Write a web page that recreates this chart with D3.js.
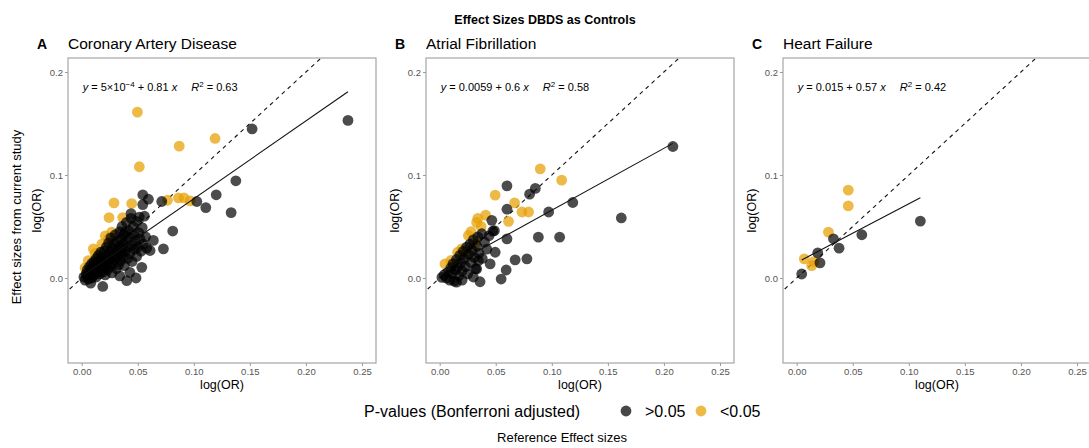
<!doctype html>
<html>
<head>
<meta charset="UTF-8">
<title>Effect Sizes DBDS as Controls</title>
<script src="https://cdn.jsdelivr.net/npm/d3@7"></script>
<style>
  body { margin: 0; background: #fff; }
  text { font-family: "Liberation Sans", Arial, sans-serif; }
</style>
</head>
<body>
<svg id="chart" width="1089" height="448"></svg>
<script>
// panel titles
const panelLetters = ["A", "B", "C"];
const panelTitles = ["Coronary Artery Disease", "Atrial Fibrillation", "Heart Failure"];

// [reference logOR, current logOR], adjusted p > 0.05
const cadNS = [
  [0.002,0.001],[0.003,-0.002],[0.004,0.004],[0.005,0.002],[0.005,0.008],[0.006,-0.001],[0.007,0.005],[0.007,0.011],
  [0.008,0.003],[0.008,0.008],[0.009,0.000],[0.009,0.014],[0.010,0.006],[0.010,0.010],[0.011,0.003],[0.011,0.016],
  [0.012,0.008],[0.012,0.012],[0.013,0.001],[0.013,0.019],[0.014,0.006],[0.014,0.010],[0.015,0.014],[0.015,0.022],
  [0.016,0.004],[0.016,0.017],[0.017,0.009],[0.017,0.025],[0.018,0.012],[0.018,0.020],[0.019,0.006],[0.019,0.016],
  [0.020,0.010],[0.020,0.026],[0.021,0.018],[0.021,0.003],[0.022,0.013],[0.022,0.030],[0.023,0.021],[0.023,0.008],
  [0.024,0.016],[0.024,0.034],[0.025,0.025],[0.025,0.011],[0.026,0.019],[0.026,0.039],[0.027,0.029],[0.027,0.005],
  [0.028,0.014],[0.028,0.023],[0.029,0.033],[0.030,0.018],[0.030,0.042],[0.031,0.027],[0.031,0.009],[0.032,0.021],
  [0.032,0.036],[0.033,0.030],[0.033,0.013],[0.034,0.045],[0.034,0.024],[0.035,0.017],[0.035,0.038],[0.036,0.028],
  [0.036,0.050],[0.037,0.021],[0.037,0.033],[0.038,0.012],[0.038,0.042],[0.039,0.026],[0.040,0.036],[0.040,0.054],
  [0.041,0.019],[0.041,0.030],[0.042,0.046],[0.043,0.024],[0.043,0.039],[0.044,0.058],[0.045,0.032],[0.045,0.016],
  [0.046,0.050],[0.047,0.028],[0.047,0.042],[0.048,0.036],[0.049,0.021],[0.049,0.055],[0.050,0.030],[0.051,0.044],
  [0.052,0.038],[0.053,0.026],[0.054,0.049],[0.055,0.033],[0.056,0.060],[0.057,0.040],[0.058,0.029],
  [0.008,-0.005],[0.0188,-0.0082],[0.034,0.002],[0.043,0.0055],[0.0402,-0.0026],[0.0485,0.000],[0.0536,0.0104],
  [0.061,0.0267],[0.0729,0.0283],[0.0639,0.0365],[0.0812,0.0456],[0.0387,0.0446],[0.0514,0.0592],[0.044,0.0626],
  [0.0545,0.0713],[0.0545,0.0808],[0.0595,0.0765],[0.0714,0.0743],[0.1027,0.0743],[0.1107,0.0684],[0.120,0.0808],
  [0.1333,0.0635],[0.1375,0.0944],[0.152,0.1447],[0.2375,0.153]
];
// adjusted p < 0.05
const cadSig = [
  [0.0497,0.161],[0.087,0.128],[0.119,0.1355],[0.0514,0.108],[0.0765,0.0755],[0.0863,0.0778],[0.0913,0.0778],
  [0.0967,0.0749],[0.0288,0.0729],[0.0446,0.0723],[0.0244,0.0587],[0.0366,0.0587],[0.0268,0.0446],[0.0238,0.0381],
  [0.0104,0.0283],[0.0059,0.0169],[0.012,0.024],[0.018,0.033],[0.003,0.010],[0.021,0.041]
];

const afNS = [
  [0.208,0.1277],[0.060,0.0895],[0.0853,0.087],[0.0802,0.0814],[0.060,0.0668],[0.1187,0.0733],[0.0972,0.0641],
  [0.162,0.0583],[0.0465,0.056],[0.0474,0.0455],[0.0376,0.043],[0.088,0.0397],[0.107,0.0397],[0.060,0.038],
  [0.0488,0.046],[0.0673,0.0176],[0.0778,0.0186],[0.0593,0.0078],[0.0548,-0.001],[0.036,-0.0036],[0.033,0.0088],
  [0.045,0.0137],[0.0495,0.025],[0.0345,0.0169],[0.015,-0.004],[0.002,0.0006],
  [0.004,0.003],[0.006,0.000],[0.008,0.006],[0.009,-0.002],[0.010,0.010],[0.011,0.004],[0.012,0.014],[0.013,-0.003],
  [0.014,0.008],[0.015,0.018],[0.016,0.011],[0.017,0.002],[0.018,0.022],[0.019,0.015],[0.020,0.007],[0.021,0.026],
  [0.022,0.019],[0.023,0.011],[0.024,0.030],[0.025,0.004],[0.026,0.023],[0.027,0.033],[0.028,0.015],[0.029,0.027],
  [0.030,0.037],[0.031,0.020],[0.032,0.009],[0.033,0.031],[0.034,0.040],[0.035,0.024],[0.040,0.035],[0.042,0.028],
  [0.038,0.019],[0.044,0.041],[0.030,0.001],[0.020,-0.002]
];
const afSig = [
  [0.0897,0.106],[0.1088,0.095],[0.0495,0.0805],[0.0668,0.0729],[0.0734,0.0641],[0.0793,0.0641],[0.0614,0.055],
  [0.033,0.054],[0.041,0.061],[0.034,0.058],[0.0256,0.0413],[0.0197,0.0283],[0.0256,0.0235],[0.0316,0.0332],
  [0.0047,0.0137],[0.010,0.017],[0.016,0.025],[0.028,0.045],[0.037,0.050]
];

const hfNS = [
  [0.1103,0.0553],[0.0328,0.0381],[0.0581,0.042],[0.0378,0.029],[0.0188,0.0244],[0.0208,0.0147],[0.0045,0.0039]
];
const hfSig = [
  [0.046,0.0853],[0.046,0.070],[0.0283,0.0446],[0.0068,0.0186],[0.0134,0.012],[0.0155,0.016]
];

// fitted line: [intercept, slope, x from, x to]
const cadFit = [0.0015, 0.755, 0.002, 0.2375];
const afFit = [0.0059, 0.6, 0.002, 0.208];
const hfFit = [0.015, 0.57, 0.0045, 0.1103];

// equation labels: [intercept text, slope text, R2 text]
const eqIntercepts = [["5", "\u00d7", "10", "\u22124"], "0.0059", "0.015"];
const eqSlopes = ["0.81", "0.6", "0.57"];
const eqR2 = ["0.63", "0.58", "0.42"];

const xTicks = [0, 0.05, 0.10, 0.15, 0.20, 0.25];
const yTicks = [0, 0.1, 0.2];

const legendLabels = [">0.05", "<0.05"];
const pointColors = ["#000000", "#E69F00"];

const svg = d3.select("#chart");
const panelLefts = [68, 426, 783];
const panelW = 308, plotTop = 58, plotBottom = 363;
const ptR = 5.4;

const panels = [
  {ns: cadNS, sig: cadSig, fit: cadFit},
  {ns: afNS, sig: afSig, fit: afFit},
  {ns: hfNS, sig: hfSig, fit: hfFit}
];

svg.append("text")
  .attr("x", 545).attr("y", 24)
  .attr("text-anchor", "middle")
  .style("font-weight", "bold").style("font-size", "12.5px")
  .text("Effect Sizes DBDS as Controls");

svg.append("text")
  .attr("transform", "translate(21,217) rotate(-90)")
  .attr("text-anchor", "middle")
  .style("font-size", "13px")
  .text("Effect sizes from current study");

panels.forEach((p, i) => {
  const left = panelLefts[i];
  const x = d3.scaleLinear().domain([-0.0122, 0.2625]).range([left, left + panelW]);
  const y = d3.scaleLinear().domain([-0.0825, 0.2136]).range([plotBottom, plotTop]);
  const g = svg.append("g");

  g.append("clipPath").attr("id", "clip" + i)
    .append("rect").attr("x", left).attr("y", plotTop).attr("width", panelW).attr("height", plotBottom - plotTop);

  // panel letter and title
  g.append("text").attr("x", left - 31).attr("y", 49)
    .style("font-weight", "bold").style("font-size", "14px").text(panelLetters[i]);
  g.append("text").attr("x", left).attr("y", 49)
    .style("font-size", "15.5px").text(panelTitles[i]);

  // axes
  const xa = g.append("g").attr("transform", `translate(0,${plotBottom})`)
    .call(d3.axisBottom(x).tickValues(xTicks).tickFormat(d3.format(".2f")).tickSize(3).tickPadding(2));
  const ya = g.append("g").attr("transform", `translate(${left},0)`)
    .call(d3.axisLeft(y).tickValues(yTicks).tickFormat(d3.format(".1f")).tickSize(3).tickPadding(2));
  [xa, ya].forEach(a => {
    a.select(".domain").remove();
    a.selectAll("line").attr("stroke", "#999");
    a.selectAll("text").attr("fill", "#555").style("font-size", "9.5px")
      .style("font-family", "'Liberation Sans', Arial, sans-serif");
  });

  g.append("text").attr("x", left + panelW / 2).attr("y", 389)
    .attr("text-anchor", "middle").style("font-size", "12.5px").text("log(OR)");
  g.append("text").attr("transform", `translate(${left - 27},${(plotTop + plotBottom) / 2}) rotate(-90)`)
    .attr("text-anchor", "middle").style("font-size", "12.5px").text("log(OR)");

  const plot = g.append("g").attr("clip-path", `url(#clip${i})`);

  // identity line
  plot.append("line")
    .attr("x1", x(-0.1)).attr("y1", y(-0.1)).attr("x2", x(0.3)).attr("y2", y(0.3))
    .attr("stroke", "#111").attr("stroke-width", 1.1).attr("stroke-dasharray", "4,4");

  // points
  plot.selectAll("circle.sig").data(p.sig).enter().append("circle")
    .attr("cx", d => x(d[0])).attr("cy", d => y(d[1])).attr("r", ptR)
    .attr("fill", pointColors[1]).attr("fill-opacity", 0.72);
  plot.selectAll("circle.ns").data(p.ns).enter().append("circle")
    .attr("cx", d => x(d[0])).attr("cy", d => y(d[1])).attr("r", ptR)
    .attr("fill", pointColors[0]).attr("fill-opacity", 0.7);

  // fitted line
  const f = p.fit;
  plot.append("line")
    .attr("x1", x(f[2])).attr("y1", y(f[0] + f[1] * f[2]))
    .attr("x2", x(f[3])).attr("y2", y(f[0] + f[1] * f[3]))
    .attr("stroke", "#111").attr("stroke-width", 1.1);

  // equation
  const eq = g.append("text").attr("x", x(0) + 1).attr("y", y(0.182)).style("font-size", "11px");
  eq.append("tspan").style("font-style", "italic").text("y");
  eq.append("tspan").text(" = ");
  const ic = eqIntercepts[i];
  if (Array.isArray(ic)) {
    eq.append("tspan").text(ic[0] + ic[1] + ic[2]);
    eq.append("tspan").attr("dy", -4).style("font-size", "8px").text(ic[3]);
    eq.append("tspan").attr("dy", 4).text(" + " + eqSlopes[i] + " ");
  } else {
    eq.append("tspan").text(ic + " + " + eqSlopes[i] + " ");
  }
  eq.append("tspan").style("font-style", "italic").text("x");
  eq.append("tspan").text("\u2003 ");
  eq.append("tspan").style("font-style", "italic").text("R");
  eq.append("tspan").attr("dy", -4).style("font-size", "8px").text("2");
  eq.append("tspan").attr("dy", 4).text(" = " + eqR2[i]);

  // panel border
  g.append("rect").attr("x", left).attr("y", plotTop).attr("width", panelW).attr("height", plotBottom - plotTop)
    .attr("fill", "none").attr("stroke", "#a6a6a6").attr("stroke-width", 1.2);
});

// legend
const lg = svg.append("g");
lg.append("text").attr("x", 364).attr("y", 417).style("font-size", "16px")
  .text("P-values (Bonferroni adjusted)");
const keyX = [626, 701];
legendLabels.forEach((lab, k) => {
  lg.append("circle").attr("cx", keyX[k]).attr("cy", 411).attr("r", ptR)
    .attr("fill", pointColors[k]).attr("fill-opacity", 0.72);
  lg.append("text").attr("x", keyX[k] + 19).attr("y", 417).style("font-size", "16px").text(lab);
});
svg.append("text").attr("x", 562).attr("y", 442).attr("text-anchor", "middle")
  .style("font-size", "13px").text("Reference Effect sizes");
</script>
</body>
</html>
